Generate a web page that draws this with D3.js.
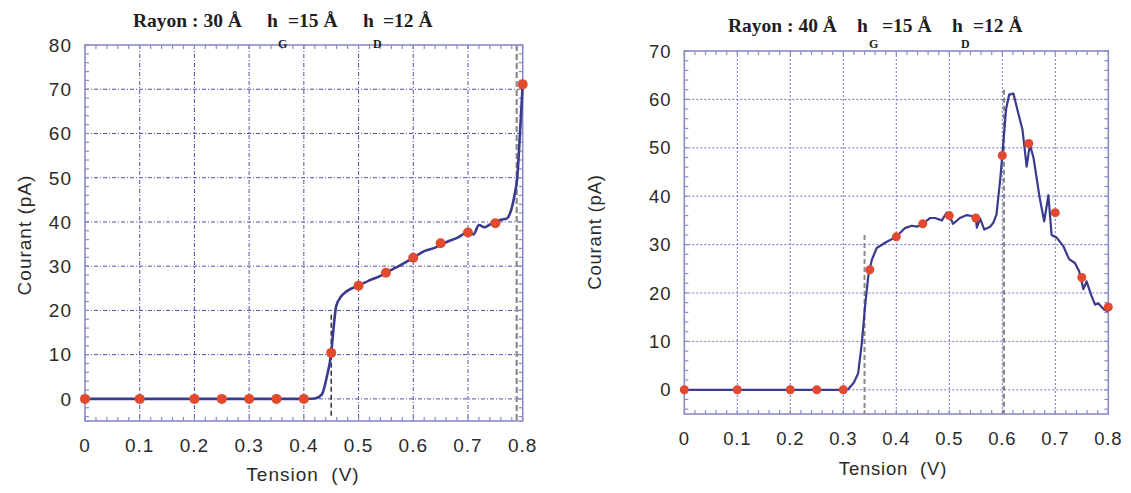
<!DOCTYPE html>
<html><head><meta charset="utf-8">
<script src="https://cdn.jsdelivr.net/npm/d3@7"></script>
<style>body{margin:0;background:#fff}svg{display:block}</style>
</head><body>
<svg id="c" width="1131" height="493"></svg>
<script>
// ---------- data ----------
const xTicks = [0,0.1,0.2,0.3,0.4,0.5,0.6,0.7,0.8];
const xTickLabels = ["0","0.1","0.2","0.3","0.4","0.5","0.6","0.7","0.8"];
const yTicks1 = [0,10,20,30,40,50,60,70,80];
const yTicks2 = [0,10,20,30,40,50,60,70];

// panel 1 : Rayon 30 Å
const curveX1 = [0,0.1,0.2,0.3,0.4,0.42,0.433,0.442,0.45,0.454,0.459,0.469,0.478,0.5,0.52,0.54,0.55,0.57,0.6,0.62,0.64,0.66,0.68,0.7,0.71,0.72,0.73,0.74,0.75,0.76,0.77,0.78,0.785,0.79,0.795,0.8];
const curveY1 = [0,0,0,0,0,0.1,1,5,10.4,15.6,20.9,23.3,24.3,25.6,26.8,27.8,28.5,29.8,31.9,33.4,34.2,35.4,36.4,37.6,37.2,39.3,38.8,39.4,39.7,40.5,40.7,43.2,46,50,60,71.1];
const ptsX1 = [0,0.1,0.2,0.25,0.3,0.35,0.4,0.45,0.5,0.55,0.6,0.65,0.7,0.75,0.8];
const ptsY1 = [0,0,0,0,0,0,0,10.4,25.6,28.5,31.9,35.2,37.6,39.7,71.1];
const markX1 = [0.45,0.789];
const markTop1 = [19,80];
const markBot1 = [-4,-5];

// panel 2 : Rayon 40 Å
const curveX2 = [0,0.1,0.2,0.3,0.31,0.32,0.328,0.335,0.341,0.347,0.35,0.354,0.363,0.382,0.4,0.416,0.429,0.439,0.45,0.464,0.473,0.486,0.495,0.5,0.507,0.52,0.533,0.542,0.55,0.552,0.558,0.566,0.577,0.583,0.589,0.596,0.6,0.607,0.613,0.621,0.63,0.638,0.646,0.652,0.659,0.67,0.679,0.687,0.693,0.703,0.715,0.726,0.737,0.745,0.753,0.759,0.768,0.775,0.781,0.792,0.8];
const curveY2 = [0,0,0,0,0.2,1.5,3.4,9.7,17.2,23.4,25,26.9,29.3,30.6,31.6,33.4,33.9,33.7,34.3,35.5,35.5,35,36.6,36,34.3,35.5,36.1,35.9,35.5,33.5,35.4,33.1,33.7,34.5,36.2,43.4,48.4,57.9,61,61.2,57.2,53.8,46.1,50.7,47.9,40,34.8,40.2,32,31.4,29.7,27,26.2,24.5,20.8,22.4,19.5,17.6,17.9,16.6,16.2];
const ptsX2 = [0,0.1,0.2,0.25,0.3,0.35,0.4,0.45,0.5,0.55,0.6,0.65,0.7,0.75,0.8];
const ptsY2 = [0,0,0,0,0,24.8,31.6,34.3,36,35.5,48.4,50.9,36.6,23.2,17.1];
const markX2 = [0.34,0.603];
const markTop2 = [32,62];
const markBot2 = [-5,-5];

const titleParts1 = ["Rayon : 30 Å","h","G","=15 Å","h","D","=12 Å"];
const titleParts2 = ["Rayon : 40 Å","h","G","=15 Å","h","D","=12 Å"];
const xLabel = "Tension  (V)";
const yLabel = "Courant (pA)";

// ---------- drawing ----------
const svg = d3.select("#c");
svg.append("rect").attr("width",1131).attr("height",493).attr("fill","#fff");

function panel(o){
  const g = svg.append("g");
  const x = d3.scaleLinear().domain([0,0.8]).range([o.L,o.R]);
  const y = d3.scaleLinear().domain([-5,o.ymax]).range([o.B,o.T]);
  const frame = "#8a8acb";
  // grid
  xTicks.forEach(v=>{
    if(v===0||v===0.8) return;
    g.append("line").attr("x1",x(v)).attr("x2",x(v)).attr("y1",o.T).attr("y2",o.B)
     .attr("stroke",o.gridColor).attr("stroke-width",1).attr("stroke-dasharray",o.dash);
  });
  o.yTicks.forEach(v=>{
    if(v===o.ymax) return;
    g.append("line").attr("x1",o.L).attr("x2",o.R).attr("y1",y(v)).attr("y2",y(v))
     .attr("stroke",o.gridColor).attr("stroke-width",1).attr("stroke-dasharray",o.dash);
  });
  // minor ticks
  const mx = d3.range(0,0.8001,0.02), my = d3.range(-4,o.ymax+0.001,2);
  mx.forEach(v=>{
    [[o.B,-4],[o.T,4]].forEach(([yy,d])=>{
      g.append("line").attr("x1",x(v)).attr("x2",x(v)).attr("y1",yy).attr("y2",yy+d)
       .attr("stroke",frame).attr("stroke-width",1.2);
    });
  });
  my.forEach(v=>{
    [[o.L,4],[o.R,-4]].forEach(([xx,d])=>{
      g.append("line").attr("x1",xx).attr("x2",xx+d).attr("y1",y(v)).attr("y2",y(v))
       .attr("stroke",frame).attr("stroke-width",1.2);
    });
  });
  // frame
  g.append("rect").attr("x",o.L).attr("y",o.T).attr("width",o.R-o.L).attr("height",o.B-o.T)
   .attr("fill","none").attr("stroke",frame).attr("stroke-width",1.6);
  // dashed markers
  o.markX.forEach((v,i)=>{
    g.append("line").attr("x1",x(v)).attr("x2",x(v)).attr("y1",y(o.markTop[i])).attr("y2",y(o.markBot[i]))
     .attr("stroke",o.markColor[i]).attr("stroke-width",o.markW[i]).attr("stroke-dasharray",o.markDash[i]);
  });
  // curve
  const line = d3.line().x(d=>x(d[0])).y(d=>y(d[1])).curve(o.curve);
  g.append("path").attr("d",line(d3.zip(o.cx,o.cy))).attr("fill","none")
   .attr("stroke","#3a3a8e").attr("stroke-width",o.lw).attr("stroke-linejoin","round");
  // points
  g.selectAll(null).data(d3.zip(o.px,o.py)).enter().append("circle")
   .attr("cx",d=>x(d[0])).attr("cy",d=>y(d[1])).attr("r",o.pr).attr("fill","#e2492f");
  // tick labels
  xTicks.forEach((v,i)=>{
    g.append("text").attr("x",x(v)).attr("y",o.xlabY).attr("text-anchor","middle")
     .attr("font-family","Liberation Sans, Arial, sans-serif").attr("font-size",o.fs)
     .attr("letter-spacing",o.ls).attr("fill","#2a2a2a").text(xTickLabels[i]);
  });
  o.yTicks.forEach(v=>{
    g.append("text").attr("x",o.L-o.ygap).attr("y",y(v)+o.fs*0.36).attr("text-anchor","end")
     .attr("font-family","Liberation Sans, Arial, sans-serif").attr("font-size",o.fs)
     .attr("letter-spacing",o.ls).attr("fill","#2a2a2a").text(String(v));
  });
  // axis titles
  g.append("text").attr("x",o.xtX).attr("y",o.xtY).attr("text-anchor","middle")
   .attr("font-family","Liberation Sans, Arial, sans-serif").attr("font-size",o.fs)
   .attr("letter-spacing",o.ls).attr("fill","#2a2a2a").style("white-space","pre").text(xLabel);
  g.append("text").attr("transform",`translate(${o.ytX},${o.ytY}) rotate(-90)`).attr("text-anchor","middle")
   .attr("font-family","Liberation Sans, Arial, sans-serif").attr("font-size",o.fs)
   .attr("letter-spacing",o.ls).attr("fill","#2a2a2a").text(yLabel);
  // title
  o.title.forEach((t,i)=>{
    const sub = (i===2||i===5);
    g.append("text").attr("x",o.tX+o.tOffs[i]).attr("y",sub?o.tY+o.subDy:o.tY)
     .attr("font-family","Liberation Serif, Times New Roman, serif").attr("font-weight","bold")
     .attr("font-size",sub?12:19.5).attr("fill","#1e1e1e").text(t);
  });
}

panel({L:85,R:522.7,T:45,B:421,ymax:80,yTicks:yTicks1,gridColor:"#4e4ea6",dash:"4,2,1,2",
  cx:curveX1,cy:curveY1,px:ptsX1,py:ptsY1,curve:d3.curveMonotoneX,lw:2.6,pr:5,
  markX:markX1,markTop:markTop1,markBot:markBot1,markColor:["#111","#8a8a8a"],markW:[1.3,2.2],markDash:["5,3","6,3"],
  fs:19,ls:1,xlabY:451.5,ygap:13,xtX:303,xtY:481,ytX:31,ytY:235,
  title:titleParts1,tX:133,tY:27,subDy:21,tOffs:[0,134,145,155,230,240,250]});

panel({L:684.3,R:1108.3,T:51,B:414,ymax:70,yTicks:yTicks2,gridColor:"#7272c4",dash:"2,2",
  cx:curveX2,cy:curveY2,px:ptsX2,py:ptsY2,curve:d3.curveLinear,lw:2.2,pr:4.5,
  markX:markX2,markTop:markTop2,markBot:markBot2,markColor:["#8a8a8a","#8a8a8a"],markW:[2,2.2],markDash:["5,3","5,3"],
  fs:18.5,ls:0.8,xlabY:445,ygap:13,xtX:893,xtY:475,ytX:601,ytY:232,
  title:titleParts2,tX:728,tY:32,subDy:16,tOffs:[0,129,141,154,224,233,245]});
</script>
</body></html>
